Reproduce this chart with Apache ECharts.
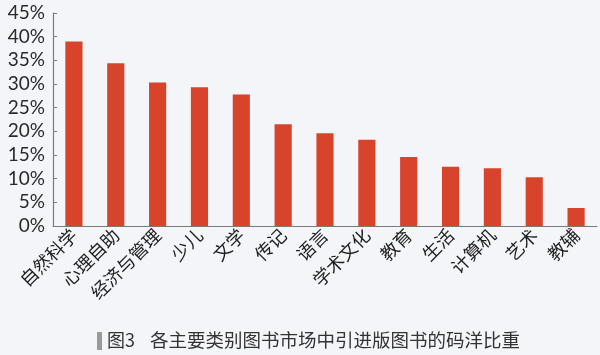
<!DOCTYPE html>
<html>
<head>
<meta charset="utf-8">
<script src="https://cdn.jsdelivr.net/npm/echarts@6/dist/echarts.min.js"></script>
<style>
  html, body { margin: 0; padding: 0; background: #f4f5f9; }
  #chart { width: 600px; height: 355px; }
</style>
</head>
<body>
<div id="chart"></div>
<script>
// 各主要类别图书市场中引进版图书的码洋比重 (%)
var categories = ['自然科学', '心理自助', '经济与管理', '少儿', '文学', '传记', '语言', '学术文化', '教育', '生活', '计算机', '艺术', '教辅'];
var shares = [39.0, 34.4, 30.3, 29.3, 27.8, 21.5, 19.6, 18.2, 14.6, 12.5, 12.2, 10.3, 3.8];
var yTicks = { min: 0, max: 45, step: 5 };
var figNo = '图3';
var caption = '各主要类别图书市场中引进版图书的码洋比重';

var chart = echarts.init(document.getElementById('chart'));

var option = {
  backgroundColor: '#f4f5f9',
  animation: false,
  grid: { left: 53, right: 3, top: 13, bottom: 129 },
  xAxis: {
    type: 'category',
    data: categories,
    axisLine: { lineStyle: { color: '#7a7a7a', width: 1.2 } },
    axisTick: { inside: true, length: 3, lineStyle: { color: '#7a7a7a' } },
    axisLabel: {
      rotate: 45,
      interval: 0,
      margin: 6,
      fontSize: 18,
      color: '#1e1e1e',
      fontFamily: 'Noto Sans CJK SC'
    }
  },
  yAxis: {
    type: 'value',
    min: yTicks.min,
    max: yTicks.max,
    interval: yTicks.step,
    splitLine: { show: false },
    axisLine: { show: true, lineStyle: { color: '#7a7a7a', width: 1.2 } },
    axisTick: { show: true, inside: true, length: 4, lineStyle: { color: '#7a7a7a' } },
    axisLabel: {
      formatter: '{value}%',
      fontSize: 19,
      margin: 8,
      color: '#2a2a2a',
      fontFamily: 'Lato'
    }
  },
  series: [{
    type: 'bar',
    data: shares,
    barWidth: '41%',
    itemStyle: { color: '#d8432c' }
  }],
  graphic: [
    { type: 'rect', left: 97, top: 332, shape: { width: 5, height: 18 }, style: { fill: '#9a9a9a' } },
    { type: 'text', left: 107, top: 331, style: { text: figNo, fontSize: 18, fill: '#333', fontFamily: 'Noto Sans CJK SC' } },
    { type: 'text', left: 150, top: 331, style: { text: caption, fontSize: 18.5, fill: '#333', fontFamily: 'Noto Sans CJK SC' } }
  ]
};

chart.setOption(option);
</script>
</body>
</html>
